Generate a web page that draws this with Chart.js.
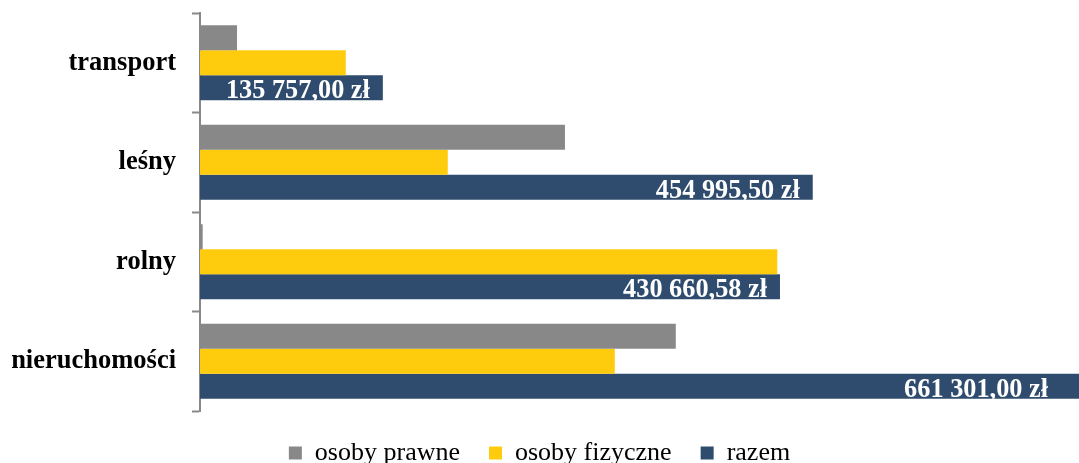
<!DOCTYPE html>
<html>
<head>
<meta charset="utf-8">
<script src="https://cdn.jsdelivr.net/npm/chart.js@4/dist/chart.umd.min.js"></script>
<style>
  html, body { margin: 0; padding: 0; background: #fff; overflow: hidden; }
  #wrap { position: relative; width: 1079px; height: 476px; }
</style>
</head>
<body>
<div id="wrap"><canvas id="c"></canvas></div>
<script>
const categories = ['transport', 'leśny', 'rolny', 'nieruchomości'];
const seriesNames = ['osoby prawne', 'osoby fizyczne', 'razem'];
const osobyPrawne = [27500, 271000, 2000, 353300];
const osobyFizyczne = [108257, 183995.5, 428660.58, 308001];
const razem = [135757.00, 454995.50, 430660.58, 661301.00];
const xMax = 652700;

const colors = ['#888888', '#FFCC0D', '#2F4B6D'];

function formatPLN(v) {
  const parts = v.toFixed(2).split('.');
  const intPart = parts[0].replace(/\B(?=(\d{3})+(?!\d))/g, ' ');
  return intPart + ',' + parts[1] + ' zł';
}

const labelPlugin = {
  id: 'razemLabels',
  afterDatasetsDraw(chart) {
    const ctx = chart.ctx;
    const meta = chart.getDatasetMeta(2);
    const area = chart.chartArea;
    ctx.save();
    ctx.font = 'bold 26.3px "Liberation Serif", "Times New Roman", serif';
    ctx.fillStyle = '#ffffff';
    ctx.textAlign = 'right';
    ctx.textBaseline = 'alphabetic';
    meta.data.forEach((bar, i) => {
      const props = bar.getProps(['x', 'y', 'height'], true);
      const end = Math.min(props.x, area.right - 18);
      const bottom = props.y + props.height / 2;
      ctx.save();
      ctx.beginPath();
      ctx.rect(area.left, props.y - props.height / 2, area.right - area.left, props.height);
      ctx.clip();
      ctx.fillText(formatPLN(razem[i]), end - 13, bottom - 2);
      ctx.restore();
    });
    ctx.restore();
  }
};

new Chart(document.getElementById('c'), {
  type: 'bar',
  data: {
    labels: categories,
    datasets: [
      { label: seriesNames[0], data: osobyPrawne, backgroundColor: colors[0] },
      { label: seriesNames[1], data: osobyFizyczne, backgroundColor: colors[1] },
      { label: seriesNames[2], data: razem, backgroundColor: colors[2] }
    ]
  },
  options: {
    indexAxis: 'y',
    responsive: true,
    maintainAspectRatio: false,
    animation: false,
    datasets: {
      bar: { categoryPercentage: 0.754, barPercentage: 1.0, borderWidth: 0 }
    },
    layout: { padding: { top: 13, right: 0, left: 0, bottom: 0 } },
    scales: {
      x: {
        display: false,
        min: 0,
        max: xMax
      },
      y: {
        afterFit(scale) { scale.width = 200; scale.paddingTop = 0; scale.paddingBottom = 0; },
        grid: {
          display: true,
          drawOnChartArea: false,
          drawTicks: true,
          tickLength: 8,
          tickWidth: 2,
          color: '#898989',
          offset: true
        },
        border: { display: true, color: '#898989', width: 2 },
        ticks: {
          color: '#000000',
          padding: 16,
          font: { family: '"Liberation Serif", "Times New Roman", serif', size: 26.5, weight: 'bold' }
        }
      }
    },
    plugins: {
      tooltip: { enabled: false },
      legend: {
        position: 'bottom',
        labels: {
          boxWidth: 13,
          boxHeight: 13,
          padding: 29,
          color: '#000000',
          font: { family: '"Liberation Serif", "Times New Roman", serif', size: 26 }
        }
      }
    }
  },
  plugins: [labelPlugin]
});
</script>
</body>
</html>
